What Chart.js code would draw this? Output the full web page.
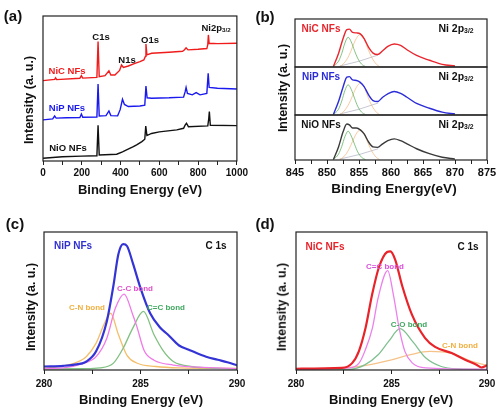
<!DOCTYPE html>
<html lang="en">
<head>
<meta charset="UTF-8">
<title>XPS spectra of NiO, NiP and NiC nanofibers</title>
<script src="https://cdn.jsdelivr.net/npm/chart.js"></script>
<style>
  body { margin: 0; background: #fff; }
  #fig { position: relative; width: 501px; height: 416px; overflow: hidden;
         font-family: "Liberation Sans", Arial, sans-serif; font-weight: bold; color: #111; }
  #fig canvas { position: absolute; }
  .t { position: absolute; transform: translate(-50%, -50%); white-space: nowrap; line-height: 1; }
  .yt { transform: translate(-50%, -50%) rotate(-90deg); font-size: 12.5px; }
  .xt { font-size: 13px; }
  .lt { font-size: 15px; }
  sub { font-size: 0.65em; vertical-align: -0.25em; }
</style>
</head>
<body>
<div id="fig">
  <canvas id="chartA" width="250" height="200" style="left:0;top:0"></canvas>
  <canvas id="chartB1" width="251" height="70" style="left:250px;top:0"></canvas>
  <canvas id="chartB2" width="251" height="54" style="left:250px;top:64px"></canvas>
  <canvas id="chartB3" width="251" height="88" style="left:250px;top:112px"></canvas>
  <canvas id="chartC" width="250" height="216" style="left:0;top:200px"></canvas>
  <canvas id="chartD" width="251" height="216" style="left:250px;top:200px"></canvas>

  <!-- (a) survey -->
  <div class="t lt" style="left:13px;top:15px">(a)</div>
  <div class="t" style="left:101px;top:37px;font-size:9.5px">C1s</div>
  <div class="t" style="left:127px;top:60px;font-size:9.5px">N1s</div>
  <div class="t" style="left:150px;top:40px;font-size:9.5px">O1s</div>
  <div class="t" style="left:216px;top:28px;font-size:9.5px">Ni2p<sub>3/2</sub></div>
  <div class="t" style="left:67px;top:71px;font-size:9.5px;color:#f01c1c">NiC NFs</div>
  <div class="t" style="left:67px;top:108px;font-size:9.5px;color:#1a1aef">NiP NFs</div>
  <div class="t" style="left:68px;top:148px;font-size:9.5px">NiO NFs</div>
  <div class="t yt" style="left:29px;top:100px">Intensity (a. u.)</div>
  <div class="t xt" style="left:140px;top:189px">Binding Energy (eV)</div>

  <!-- (b) Ni 2p -->
  <div class="t lt" style="left:265px;top:16px">(b)</div>
  <div class="t" style="left:321px;top:29px;font-size:10px;color:#e8262e">NiC NFs</div>
  <div class="t" style="left:456px;top:29px;font-size:10.5px">Ni 2p<sub>3/2</sub></div>
  <div class="t" style="left:321px;top:77px;font-size:10px;color:#2b2bd9">NiP NFs</div>
  <div class="t" style="left:456px;top:77px;font-size:10.5px">Ni 2p<sub>3/2</sub></div>
  <div class="t" style="left:321px;top:125px;font-size:10px">NiO NFs</div>
  <div class="t" style="left:456px;top:125px;font-size:10.5px">Ni 2p<sub>3/2</sub></div>
  <div class="t yt" style="left:283px;top:88px">Intensity (a. u.)</div>
  <div class="t xt" style="left:394px;top:189px;font-size:13.5px">Binding Energy(eV)</div>

  <!-- (c) C 1s NiP -->
  <div class="t lt" style="left:15px;top:223px">(c)</div>
  <div class="t" style="left:73px;top:246px;font-size:10px;color:#3030d0">NiP NFs</div>
  <div class="t" style="left:216px;top:246px;font-size:10px">C 1s</div>
  <div class="t" style="left:135px;top:289px;font-size:8px;color:#e050c8">C-C bond</div>
  <div class="t" style="left:87px;top:308px;font-size:8px;color:#f0b040">C-N bond</div>
  <div class="t" style="left:166px;top:308px;font-size:8px;color:#40a860">C=C bond</div>
  <div class="t yt" style="left:31px;top:307px">Intensity (a. u.)</div>
  <div class="t xt" style="left:141px;top:399px">Binding Energy (eV)</div>

  <!-- (d) C 1s NiC -->
  <div class="t lt" style="left:265px;top:223px">(d)</div>
  <div class="t" style="left:325px;top:247px;font-size:10px;color:#e8232a">NiC NFs</div>
  <div class="t" style="left:468px;top:247px;font-size:10px">C 1s</div>
  <div class="t" style="left:385px;top:267px;font-size:8px;color:#d850d8">C=C bond</div>
  <div class="t" style="left:409px;top:325px;font-size:8px;color:#40a860">C-O bond</div>
  <div class="t" style="left:460px;top:346px;font-size:8px;color:#f0b040">C-N bond</div>
  <div class="t yt" style="left:282px;top:307px">Intensity (a. u.)</div>
  <div class="t xt" style="left:391px;top:399px">Binding Energy (eV)</div>
</div>

<script>
// ---- (a) survey spectra, binding energy (eV) vs intensity (a.u.) ----
const surveyNiCX = [0, 60, 65, 70, 190, 198, 205, 278, 284, 290, 320, 340, 350, 371, 395, 405, 415, 440, 474, 500, 520, 528, 531, 536, 560, 650, 720, 730, 738, 748, 800, 845, 850, 853, 857, 900, 1000];
const surveyNiCY = [55.6, 56.5, 57.5, 56.3, 57.2, 59, 57.3, 57.8, 82, 58.3, 59, 62.3, 59.4, 59.4, 62.5, 66.2, 64.5, 65.5, 67.3, 68.5, 69.6, 72, 80.4, 73, 74.1, 74.8, 75.5, 76.5, 77.8, 76.4, 76.8, 77.3, 80, 86.5, 80.9, 80.6, 80.9];
const surveyNiPX = [0, 50, 60, 68, 120, 190, 198, 205, 278, 284, 290, 325, 340, 350, 385, 398, 410, 420, 440, 500, 525, 531, 537, 560, 650, 725, 733, 738, 745, 770, 790, 810, 845, 852, 857, 900, 1000];
const surveyNiPY = [29.1, 29.8, 31.7, 30.3, 30.5, 30.6, 33.1, 30.9, 31, 53.4, 31.7, 32, 35.1, 32, 31.8, 36, 43, 39.5, 38.1, 38.5, 39, 52, 44, 43.7, 44, 44.5, 48, 51, 47, 46, 47.5, 46, 47, 60.6, 51, 50.5, 50];
const surveyNiOX = [0, 100, 200, 278, 284, 290, 380, 410, 431, 466, 483, 510, 525, 530, 536, 560, 600, 690, 725, 733, 740, 750, 850, 855, 858, 863, 1000];
const surveyNiOY = [3.2, 4.2, 4.6, 4.8, 25.5, 5.4, 5.9, 7.5, 8.8, 11, 12.2, 14.4, 16, 24.9, 18.5, 19.9, 21, 22.3, 23.4, 25.5, 26.8, 24.5, 25, 30, 34.8, 25.5, 25.2];

// ---- (b) Ni 2p3/2 ----
const ni2pX = [851, 851.8, 852.5, 853.1, 853.5, 854, 854.6, 855.2, 855.8, 856.5, 857.2, 857.9, 858.7, 859.5, 860.5, 861.5, 862.5, 864, 866, 868, 870];
const ni2pNiC = [0.01, 0.28, 0.59, 0.78, 0.79, 0.72, 0.71, 0.69, 0.59, 0.41, 0.29, 0.26, 0.34, 0.43, 0.48, 0.45, 0.36, 0.24, 0.14, 0.055, 0.02];
const ni2pNiP = [0.01, 0.28, 0.58, 0.79, 0.80, 0.73, 0.72, 0.68, 0.59, 0.42, 0.30, 0.28, 0.37, 0.44, 0.49, 0.45, 0.37, 0.24, 0.14, 0.06, 0.02];
const ni2pNiO = [0.01, 0.29, 0.62, 0.80, 0.78, 0.71, 0.71, 0.67, 0.58, 0.40, 0.29, 0.28, 0.36, 0.43, 0.47, 0.43, 0.36, 0.25, 0.14, 0.06, 0.02];
const fitGreenX = [851, 851.8, 852.3, 852.8, 853.3, 853.8, 854.3, 854.8, 855.4, 856];
const fitGreenNiC = [0.01, 0.12, 0.28, 0.5, 0.62, 0.52, 0.34, 0.18, 0.06, 0.01];
const fitGreenNiP = [0.01, 0.12, 0.29, 0.51, 0.63, 0.53, 0.35, 0.18, 0.06, 0.01];
const fitGreenNiO = [0.01, 0.13, 0.30, 0.52, 0.64, 0.53, 0.35, 0.18, 0.06, 0.01];
const fitOrangeX = [852, 852.6, 853.2, 853.7, 854.3, 854.8, 855.2, 855.7, 856.2, 856.7, 857.2, 857.7, 858.2];
const fitOrangeNiC = [0.01, 0.07, 0.18, 0.32, 0.52, 0.64, 0.68, 0.62, 0.45, 0.28, 0.15, 0.06, 0.01];
const fitOrangeNiP = [0.01, 0.07, 0.18, 0.31, 0.50, 0.62, 0.66, 0.61, 0.45, 0.28, 0.15, 0.06, 0.01];
const fitOrangeNiO = [0.01, 0.07, 0.18, 0.32, 0.51, 0.63, 0.67, 0.61, 0.45, 0.28, 0.15, 0.06, 0.01];
const bgX = [852, 855, 858];
const bgY = [0.02, 0.12, 0.25];

// ---- (c) C 1s, NiP NFs ----
const c1sPX = [280, 281, 281.5, 282.2, 282.7, 283.25, 283.6, 283.85, 284.1, 284.3, 284.6, 285, 285.5, 286, 286.4, 287, 287.5, 287.9, 288.4, 289, 289.5, 290];
const c1sPY = [0.04, 0.045, 0.052, 0.076, 0.148, 0.36, 0.62, 0.84, 0.914, 0.90, 0.78, 0.6, 0.42, 0.32, 0.27, 0.19, 0.16, 0.136, 0.11, 0.088, 0.07, 0.048];
const ccBondX = [280, 281, 282, 282.7, 283.25, 283.7, 284.15, 284.6, 284.8, 285.2, 285.7, 286.7, 288, 290];
const ccBondY = [0.025, 0.03, 0.06, 0.11, 0.24, 0.457, 0.557, 0.41, 0.33, 0.15, 0.085, 0.05, 0.035, 0.025];
const cnBondPX = [280, 281.5, 282.2, 282.7, 283.1, 283.45, 283.85, 284.3, 284.8, 285.8, 287, 290];
const cnBondPY = [0.026, 0.06, 0.112, 0.207, 0.338, 0.42, 0.27, 0.12, 0.065, 0.04, 0.03, 0.026];
const c2cBondPX = [280, 282, 282.9, 283.6, 284.1, 284.6, 285.15, 285.7, 286.2, 286.7, 287.6, 288.5, 290];
const c2cBondPY = [0.022, 0.024, 0.03, 0.064, 0.17, 0.314, 0.433, 0.267, 0.148, 0.076, 0.04, 0.03, 0.022];

// ---- (d) C 1s, NiC NFs ----
const c1sCX = [280, 282.4, 282.94, 283.29, 283.64, 283.98, 284.33, 284.77, 284.94, 285.2, 285.55, 286.07, 286.76, 287.28, 288.15, 288.85, 289.45, 289.71, 290];
const c1sCY = [0.024, 0.03, 0.064, 0.148, 0.314, 0.55, 0.743, 0.857, 0.862, 0.80, 0.62, 0.41, 0.243, 0.18, 0.136, 0.088, 0.052, 0.033, 0.048];
const c2cBondCX = [280, 282.8, 283.3, 283.6, 284, 284.3, 284.8, 285.1, 285.4, 285.7, 286.1, 286.8, 290];
const c2cBondCY = [0.02, 0.03, 0.064, 0.148, 0.314, 0.53, 0.724, 0.552, 0.314, 0.148, 0.064, 0.03, 0.02];
const coBondX = [280, 282.8, 283.6, 284.3, 284.85, 285.45, 286.1, 286.8, 287.6, 288.5, 290];
const coBondY = [0.015, 0.02, 0.052, 0.124, 0.219, 0.31, 0.219, 0.1, 0.04, 0.022, 0.018];
const cnBondCX = [280, 283.3, 285, 286, 287, 288.1, 289.2, 290];
const cnBondCY = [0.012, 0.04, 0.088, 0.125, 0.148, 0.136, 0.076, 0.048];

const F = '"Liberation Sans", Arial, sans-serif';

// box around the plot area, like the original frames
const framePlugin = {
  id: 'frame',
  afterDraw(chart) {
    const { ctx, chartArea: a } = chart;
    ctx.save();
    ctx.strokeStyle = '#222';
    ctx.lineWidth = 1.2;
    ctx.strokeRect(a.left, a.top, a.right - a.left, a.bottom - a.top);
    ctx.restore();
  }
};

function pts(xs, ys) {
  return xs.map((x, i) => ({ x: x, y: ys[i] }));
}

function line(xs, ys, color, width, smooth) {
  return {
    data: pts(xs, ys),
    borderColor: color,
    borderWidth: width,
    pointRadius: 0,
    fill: false,
    tension: 0,
    cubicInterpolationMode: smooth ? 'monotone' : 'default'
  };
}

// box: padding to place the plot area, axisH = height under the plot for tick labels
function panel(id, box, xr, yr, datasets) {
  const showX = box.axisH > 0;
  return new Chart(document.getElementById(id), {
    type: 'line',
    data: { datasets: datasets },
    plugins: [framePlugin],
    options: {
      responsive: false,
      animation: false,
      events: [],
      layout: { padding: { left: box.l, top: box.t, right: box.r, bottom: box.b || 0 } },
      plugins: { legend: { display: false }, tooltip: { enabled: false } },
      scales: {
        x: {
          type: 'linear', min: xr.min, max: xr.max, display: showX,
          afterFit: s => { s.height = box.axisH; },
          border: { display: false },
          grid: { drawOnChartArea: false, tickLength: 4, color: '#222', tickWidth: 1 },
          ticks: {
            stepSize: xr.step, autoSkip: false, maxRotation: 0, padding: xr.pad,
            color: '#111', font: { family: F, size: xr.font, weight: 'bold' },
            callback: v => (Math.abs(v / xr.label - Math.round(v / xr.label)) < 1e-6 ? v : '')
          }
        },
        y: { type: 'linear', min: yr.min, max: yr.max, display: false }
      }
    }
  });
}

// (a)
panel('chartA', { l: 43, t: 16, r: 13, axisH: 39 },
  { min: 0, max: 1000, step: 100, label: 200, font: 10, pad: 2 }, { min: 1.3, max: 99.3 }, [
    line(surveyNiCX, surveyNiCY, '#f01c1c', 1.4, false),
    line(surveyNiPX, surveyNiPY, '#1a1aef', 1.4, false),
    line(surveyNiOX, surveyNiOY, '#111', 1.4, false)
  ]);

// (b) three stacked sub-panels
const bX = { min: 845, max: 875, step: 2.5, label: 5, font: 11, pad: 2 };
function ni2pSets(main, mainColor, green, orange) {
  return [
    line(ni2pX, main, mainColor, 1.4, true),
    line(fitGreenX, green, 'rgba(90,175,90,0.75)', 1, true),
    line(fitOrangeX, orange, 'rgba(245,175,110,0.65)', 1, true),
    line(bgX, bgY, 'rgba(175,175,195,0.7)', 1, false)
  ];
}
panel('chartB1', { l: 45, t: 19, r: 14, b: 3, axisH: 0 }, bX, { min: 0, max: 1 },
  ni2pSets(ni2pNiC, '#e8262e', fitGreenNiC, fitOrangeNiC));
panel('chartB2', { l: 45, t: 3, r: 14, b: 3, axisH: 0 }, bX, { min: 0, max: 1 },
  ni2pSets(ni2pNiP, '#2b2bd9', fitGreenNiP, fitOrangeNiP));
panel('chartB3', { l: 45, t: 3, r: 14, axisH: 40 }, bX, { min: 0, max: 1 },
  ni2pSets(ni2pNiO, '#3a3a3a', fitGreenNiO, fitOrangeNiO));

// (c)
const cX = { min: 280, max: 290, step: 2.5, label: 5, font: 10, pad: 4 };
panel('chartC', { l: 44, t: 32, r: 13, axisH: 46 }, cX, { min: 0.015, max: 1 }, [
  line(c1sPX, c1sPY, '#3434d6', 2.2, true),
  line(ccBondX, ccBondY, '#f07ae8', 1.3, true),
  line(c2cBondPX, c2cBondPY, '#80c080', 1.3, true),
  line(cnBondPX, cnBondPY, '#f4be6a', 1.3, true)
]);

// (d)
panel('chartD', { l: 46, t: 32, r: 14, axisH: 46 }, cX, { min: 0.015, max: 1 }, [
  line(c1sCX, c1sCY, '#e8232a', 2.2, true),
  line(c2cBondCX, c2cBondCY, '#ec80ec', 1.3, true),
  line(coBondX, coBondY, '#80c090', 1.3, true),
  line(cnBondCX, cnBondCY, '#f5c38a', 1.3, true)
]);
</script>
</body>
</html>
